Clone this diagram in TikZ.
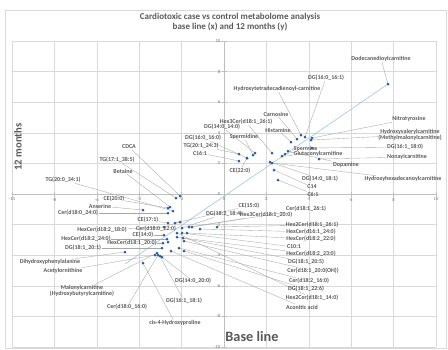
\documentclass[tikz,border=0pt]{standalone}
\usepackage{fontspec}
\setmainfont{Carlito}
\usetikzlibrary{backgrounds}
\definecolor{dotblue}{RGB}{46,94,160}
\definecolor{trendblue}{RGB}{157,195,230}
\definecolor{labgray}{RGB}{89,89,89}
\definecolor{gridgray}{RGB}{217,217,217}
\definecolor{axisgray}{RGB}{191,191,191}
\definecolor{leadgray}{RGB}{166,166,166}

\begin{document}
\begin{tikzpicture}[x=1pt, y=-1pt,
  dot/.style={circle, fill=dotblue, inner sep=0pt, minimum size=3pt},
  lab/.style={font=\fontsize{6}{6.2}\selectfont\bfseries, text=labgray,
              inner sep=0.5pt, align=center},
  lead/.style={draw=leadgray, line width=0.35pt},
  gridln/.style={draw=gridgray, line width=0.45pt},
  axisln/.style={draw=axisgray, line width=0.5pt},
  tick/.style={font=\fontsize{4.6}{5}\selectfont, text=black!55, inner sep=0pt},
  trend/.style={draw=trendblue, line width=0.6pt},
  titl/.style={font=\fontsize{9}{10}\selectfont\bfseries, text=labgray}]
\useasboundingbox (0,0) rectangle (448,349);

% chart frame, grid and axes
\begin{scope}[on background layer]
\draw[gridgray, line width=0.4pt] (5,10) rectangle (446,348.5);
\foreach \k in {0,...,10} {
  \draw[gridln] ({12+42.4*\k},41) -- ({12+42.4*\k},347);
  \draw[gridln] (12,{41+30.6*\k}) -- (436,{41+30.6*\k});
}
\draw[axisln] (224,41) -- (224,347);
\draw[axisln] (12,194) -- (436,194);
\foreach \k in {0,...,10} {
  \draw[axisln] (221.5,{41+30.6*\k}) -- (226.5,{41+30.6*\k});
  \draw[axisln] ({12+42.4*\k},191.5) -- ({12+42.4*\k},196.5);
}
\end{scope}
\foreach \v in {-10,-8,...,10} {
  \node[tick] (tx\v) at ({224+21.2*(\v)},199.5) {\v};
  \node[tick, anchor=east] (ty\v) at (220.5,{194-15.3*(\v)}) {\v};
}

% titles
\node[titl] (title) at (230,17) {Cardiotoxic case vs control metabolome analysis};
\node[titl] (subtitle) at (230,27) {base line (x) and 12 months (y)};
\node[font=\fontsize{10.7}{12}\selectfont\bfseries, text=labgray, rotate=90]
  (ylab) at (18,147) {12 months};
\node[font=\fontsize{14.3}{16}\selectfont\bfseries, text=labgray]
  (xlab) at (252,337) {Base line};

% data points
\node[dot] (dodec) at (388,84) {};
\node[dot] (dgsixteen) at (305,137) {};
\node[dot] (hydtet) at (301,135) {};
\node[dot] (carn) at (297,139) {};
\node[dot] (hexthree) at (272,153) {};
\node[dot] (hist) at (291,142) {};
\node[dot] (sperm) at (285,154) {};
\node[dot] (gluta) at (282,156) {};
\node[dot] (nitro) at (312,138) {};
\node[dot] (hydval) at (311,140) {};
\node[dot] (dgsixone) at (312,148) {};
\node[dot] (nonayl) at (319,159) {};
\node[dot] (dopa) at (288,151) {};
\node[dot] (hydhex) at (272,163) {};
\node[dot] (dgfourteen) at (270,162) {};
\node[dot] (cfourteen) at (274,170) {};
\node[dot] (csix) at (278,180) {};
\node[dot] (dgff) at (255,153) {};
\node[dot] (spermid) at (253,155) {};
\node[dot] (dgss) at (247,158) {};
\node[dot] (tgtwenty) at (239,154) {};
\node[dot] (csixteen) at (239,161) {};
\node[dot] (cetwotwo) at (247,158) {};
\node[dot] (cdca) at (180,196) {};
\node[dot] (tgseventeen) at (176,198) {};
\node[dot] (betaine) at (170,207) {};
\node[dot] (tgtwozero) at (173,211) {};
\node[dot] (cetwozero) at (168,208) {};
\node[dot] (anserine) at (143,210) {};
\node[dot] (cerdtf) at (168,213) {};
\node[dot] (cesevone) at (168,223) {};
\node[dot] (dgeighteen) at (182,228) {};
\node[dot] (cefifteen) at (175,223) {};
\node[dot] (hexthreetw) at (189,227) {};
\node[dot] (certwsix) at (192,227) {};
\node[dot] (hexcereight) at (164,227) {};
\node[dot] (certwtwo) at (180,222) {};
\node[dot] (cefourteen) at (164,235) {};
\node[dot] (hexcertwfour) at (167,239) {};
\node[dot] (hexcertwzero) at (163,243) {};
\node[dot] (dgtwone) at (162,248) {};
\node[dot] (dihyd) at (125,252) {};
\node[dot] (acetyl) at (155,255) {};
\node[dot] (malonyl) at (157,253) {};
\node[dot] (cersixteen) at (158,255) {};
\node[dot] (dgsixeight) at (160,256) {};
\node[dot] (dgfourtw) at (162,257) {};
\node[dot] (cis) at (143,263) {};
\node[dot] (hextwotwsix) at (217,227) {};
\node[dot] (hexsixtwfour) at (200,229) {};
\node[dot] (hexcertwtwo) at (187,233) {};
\node[dot] (cten) at (182,233) {};
\node[dot] (hexcertwthree) at (183,238) {};
\node[dot] (dgtwfive) at (177,237) {};
\node[dot] (ceroh) at (184,241) {};
\node[dot] (certwosix) at (179,248) {};
\node[dot] (dgtwsix) at (184,251) {};
\node[dot] (hextwofour) at (177,233) {};
\node[dot] (aconitic) at (171,251) {};
\node[dot] (extra) at (168,242) {};

% data labels
\node[lab] (dodec-l) at (381,59) {Dodecanedioylcarnitine};
\node[lab] (dgsixteen-l) at (326,78) {DG(16:0\_16:1)};
\node[lab] (hydtet-l) at (277,89) {Hydroxytetradecadienoyl-carnitine};
\node[lab] (carn-l) at (276,114) {Carnosine};
\node[lab] (hexthree-l) at (246,122) {Hex3Cer(d18:1\_26:1)};
\node[lab] (hist-l) at (278,130) {Histamine};
\node[lab, anchor=west] (sperm-l) at (293,149.3) {Spermine};
\node[lab, anchor=west] (gluta-l) at (293,154.3) {Glutaconylcarnitine};
\node[lab] (nitro-l) at (409,119) {Nitrotyrosine};
\node[lab] (hydval-l) at (410,135) {Hydroxyvalerylcarnitine\\(Methylmalonylcarnitine)};
\node[lab] (dgsixone-l) at (405,147) {DG(16:1\_18:0)};
\node[lab] (nonayl-l) at (407,157) {Nonaylcarnitine};
\node[lab] (dopa-l) at (346,164.5) {Dopamine};
\node[lab] (hydhex-l) at (403,179) {Hydroxyhexadecanoylcarnitine};
\node[lab] (dgfourteen-l) at (320,179) {DG(14:0\_18:1)};
\node[lab] (cfourteen-l) at (312,187) {C14};
\node[lab] (csix-l) at (313,194) {C6:1};
\node[lab] (dgff-l) at (222,127) {DG(14:0\_14:0)};
\node[lab] (spermid-l) at (244,137) {Spermidine};
\node[lab] (dgss-l) at (203,138) {DG(16:0\_16:0)};
\node[lab] (tgtwenty-l) at (201,146) {TG(20:1\_24:3)};
\node[lab] (csixteen-l) at (200,153) {C16:1};
\node[lab] (cetwotwo-l) at (240,171) {CE(22:0)};
\node[lab] (cdca-l) at (129,147) {CDCA};
\node[lab] (tgseventeen-l) at (117,160) {TG(17:1\_38:5)};
\node[lab] (betaine-l) at (123,171) {Betaine};
\node[lab] (tgtwozero-l) at (63,180) {TG(20:0\_34:1)};
\node[lab] (cetwozero-l) at (114,199) {CE(20:0)};
\node[lab] (anserine-l) at (100,206) {Anserine};
\node[lab] (cerdtf-l) at (78,213) {Cer(d18:0\_24:0)};
\node[lab] (cesevone-l) at (148,220) {CE(17:1)};
\node[lab] (dgeighteen-l) at (224,214) {DG(18:2\_18:4)};
\node[lab] (cefifteen-l) at (249,206) {CE(15:0)};
\node[lab] (hexthreetw-l) at (266,215) {Hex3Cer(d18:1\_20:0)};
\node[lab] (certwsix-l) at (306,209) {Cer(d18:1\_26:1)};
\node[lab] (hexcereight-l) at (102,230) {HexCer(d18:2\_18:0)};
\node[lab] (certwtwo-l) at (156,229) {Cer(d18:0\_22:0)};
\node[lab] (cefourteen-l) at (143,235) {CE(14:0)};
\node[lab] (hexcertwfour-l) at (86,239) {HexCer(d18:2\_24:0)};
\node[lab] (hexcertwzero-l) at (132,243) {HexCer(d18:1\_20:0)};
\node[lab] (dgtwone-l) at (83,248) {DG(18:1\_20:1)};
\node[lab] (dihyd-l) at (50,262) {Dihydroxyphenylalanine};
\node[lab] (acetyl-l) at (63,271) {Acetylornithine};
\node[lab] (malonyl-l) at (82,291) {Malonylcarnitine\\(Hydroxybutyrylcarnitine)};
\node[lab] (cersixteen-l) at (127,307) {Cer(d18:0\_16:0)};
\node[lab] (dgsixeight-l) at (184,301) {DG(16:1\_18:1)};
\node[lab] (dgfourtw-l) at (193,281) {DG(14:0\_20:0)};
\node[lab] (cis-l) at (175,323) {cis-4-Hydroxyproline};
\node[lab] (hextwotwsix-l) at (312,225) {Hex2Cer(d18:1\_26:1)};
\node[lab] (hexsixtwfour-l) at (311,232) {HexCer(d16:1\_24:0)};
\node[lab] (hexcertwtwo-l) at (311,239) {HexCer(d18:2\_22:0)};
\node[lab] (cten-l) at (294,247) {C10:1};
\node[lab] (hexcertwthree-l) at (311,254) {HexCer(d18:2\_23:0)};
\node[lab] (dgtwfive-l) at (306,262) {DG(18:1\_20:5)};
\node[lab] (ceroh-l) at (313,271) {Cer(d18:1\_20:0(OH))};
\node[lab] (certwosix-l) at (309,281) {Cer(d18:2\_16:0)};
\node[lab] (dgtwsix-l) at (306,289) {DG(18:1\_22:6)};
\node[lab] (hextwofour-l) at (312,298) {Hex2Cer(d18:1\_14:0)};
\node[lab] (aconitic-l) at (302,307) {Aconitic acid};

% trend line and leader lines
\begin{scope}[on background layer]
\coordinate (trendlo) at (125,264);
\draw[trend] (trendlo) -- (dodec.center);
\foreach \m in {dodec,dgsixteen,hydtet,carn,hexthree,hist,sperm,gluta,
  nitro,hydval,dgsixone,nonayl,dopa,hydhex,dgfourteen,cfourteen,csix,
  dgff,spermid,dgss,tgtwenty,csixteen,cetwotwo,cdca,tgseventeen,betaine,
  tgtwozero,cetwozero,anserine,cerdtf,cesevone,dgeighteen,cefifteen,
  hexthreetw,certwsix,hexcereight,certwtwo,cefourteen,hexcertwfour,
  hexcertwzero,dgtwone,dihyd,acetyl,malonyl,cersixteen,dgsixeight,
  dgfourtw,cis,hextwotwsix,hexsixtwfour,hexcertwtwo,cten,hexcertwthree,
  dgtwfive,ceroh,certwosix,dgtwsix,hextwofour,aconitic}
  \draw[lead] (\m-l) -- (\m.center);
\end{scope}
\end{tikzpicture}
\end{document}
